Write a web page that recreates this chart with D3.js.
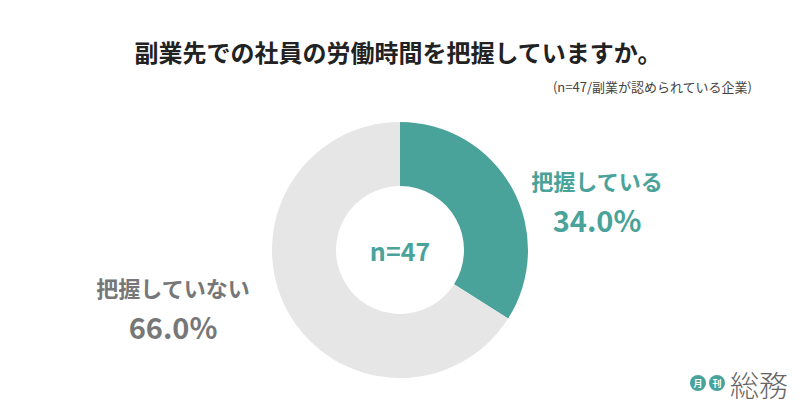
<!DOCTYPE html>
<html>
<head>
<meta charset="UTF-8">
<script src="https://d3js.org/d3.v7.min.js"></script>
<style>body{margin:0;background:#fff;} text{font-family:"Noto Sans CJK JP","Noto Sans",sans-serif;}</style>
</head>
<body>
<div id="chart"></div>
<script>
var labels = ['把握している', '把握していない'];
var values = [34.0, 66.0];
var colors = ['#4aa39a', '#e6e6e6'];
var textColors = ['#4aa39a', '#777777'];

var svg = d3.select('#chart').append('svg').attr('width', 800).attr('height', 419);

svg.append('text').attr('x', 398).attr('y', 62).attr('text-anchor', 'middle')
   .style('font-size', '24px').style('font-weight', 'bold').attr('fill', '#222')
   .text('副業先での社員の労働時間を把握していますか。');
svg.append('text').attr('x', 752).attr('y', 92).attr('text-anchor', 'end')
   .style('font-size', '13px').attr('fill', '#444')
   .text('(n=47/副業が認められている企業)');

var cx = 400, cy = 250;
var pie = d3.pie().sort(null).value(d => d);
var arc = d3.arc().innerRadius(64).outerRadius(128);
var g = svg.append('g').attr('transform', 'translate(' + cx + ',' + cy + ')');
g.selectAll('path').data(pie(values)).enter().append('path')
 .attr('d', arc).attr('fill', (d, i) => colors[i]);

g.append('text').attr('y', 11).attr('text-anchor', 'middle')
 .style('font-size', '25px').style('font-weight', 'bold').attr('fill', '#4aa39a').text('n=47');

var lab = [{x: 597, y: 190}, {x: 173, y: 297}];
lab.forEach(function(p, i) {
  svg.append('text').attr('x', p.x).attr('y', p.y).attr('text-anchor', 'middle')
     .style('font-size', '22px').style('font-weight', 'bold').attr('fill', textColors[i]).text(labels[i]);
  svg.append('text').attr('x', p.x).attr('y', p.y + 42).attr('text-anchor', 'middle')
     .style('font-size', '29px').style('font-weight', 'bold').attr('fill', textColors[i]).text(values[i].toFixed(1) + '%');
});

var logo = svg.append('g');
[['月', 698], ['刊', 717]].forEach(function(d) {
  logo.append('circle').attr('cx', d[1]).attr('cy', 383).attr('r', 8).attr('fill', '#4aa39a');
  logo.append('text').attr('x', d[1]).attr('y', 387).attr('text-anchor', 'middle')
      .style('font-size', '9px').style('font-weight', 'bold').attr('fill', '#fff').text(d[0]);
});
logo.append('text').attr('x', 730).attr('y', 397).style('font-size', '29px').style('font-weight', '300')
    .attr('fill', '#666').text('総務');
</script>
</body>
</html>
